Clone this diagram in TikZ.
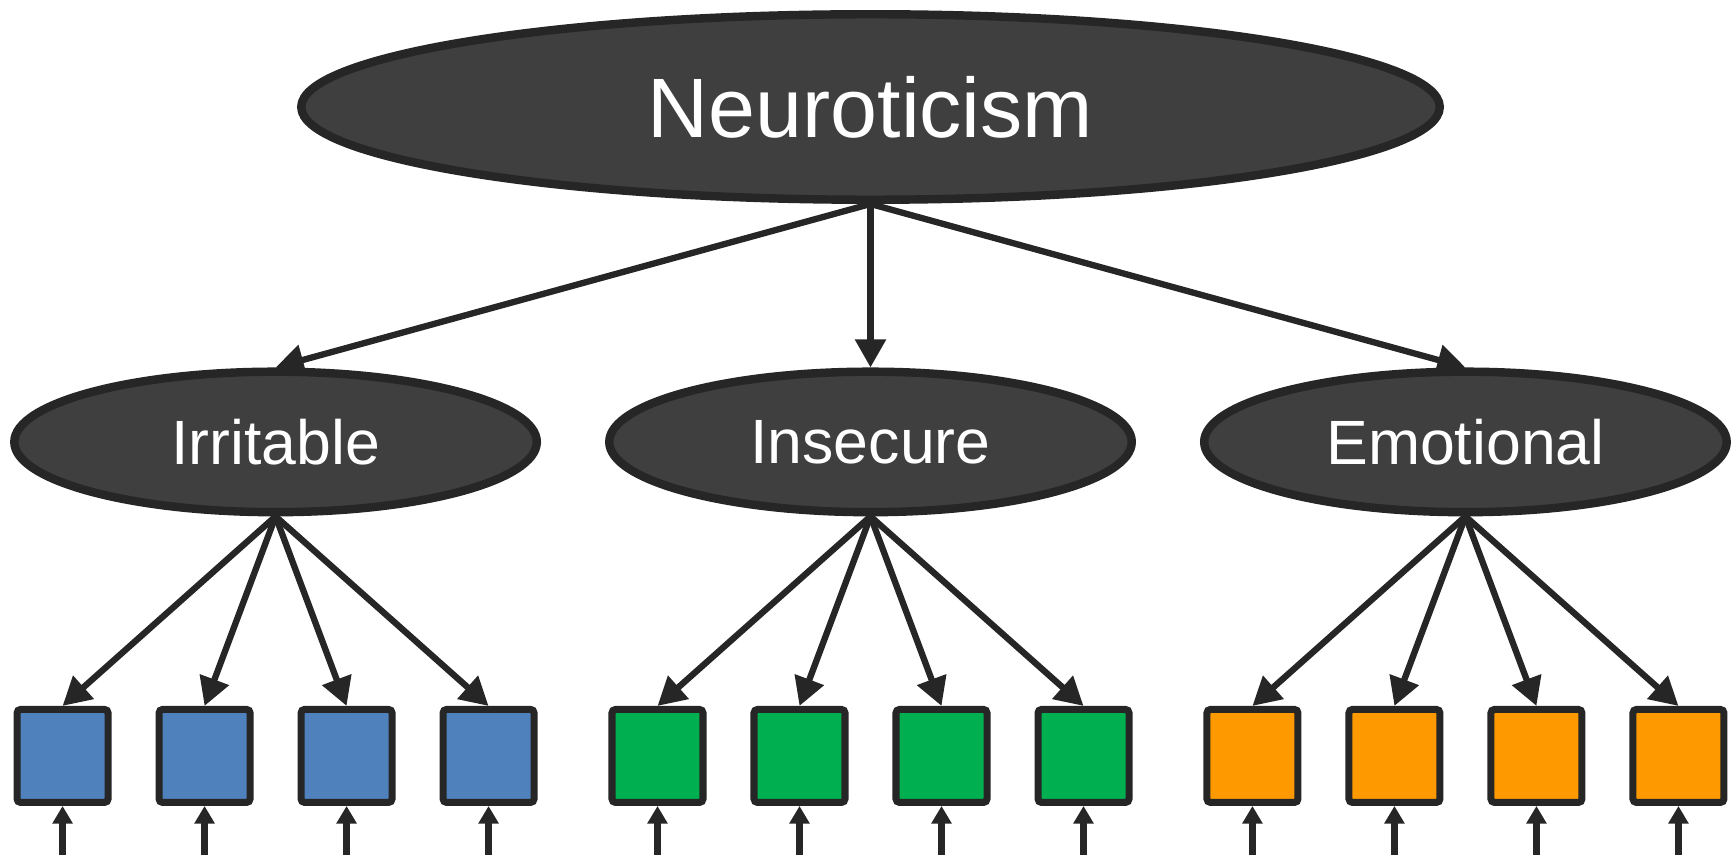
\documentclass[tikz,border=0pt]{standalone}
\usepackage{fontspec}
\setmainfont{Liberation Sans}
\usepackage{xcolor}
\usetikzlibrary{arrows.meta,positioning,calc,shapes.geometric}

\definecolor{latentfill}{HTML}{3F3F3F}
\definecolor{edgegray}{HTML}{262626}
\definecolor{itemblue}{HTML}{4F81BD}
\definecolor{itemgreen}{HTML}{00B050}
\definecolor{itemorange}{HTML}{FF9900}

\begin{document}
\begin{tikzpicture}[
  latent/.style={ellipse, draw=edgegray, fill=latentfill, line width=2.4pt, text=white, inner sep=0pt},
  facet/.style={minimum width=5.225cm, minimum height=1.405cm, font=\fontsize{17.8}{21}\selectfont},
  item/.style={draw=edgegray, line width=2pt, rounded corners=1pt, minimum width=0.91cm, minimum height=0.93cm, inner sep=0pt},
  arr/.style={-{Triangle[length=8pt, width=8.5pt]}, line width=1.8pt, draw=edgegray},
  errarr/.style={-{Triangle[length=5pt, width=5.5pt]}, line width=2pt, draw=edgegray},
  node distance=1.635cm and 0.64cm,
]
  \useasboundingbox (0,0) rectangle (17.35,-8.55);

  \node[latent, minimum width=11.385cm, minimum height=1.855cm, font=\fontsize{24}{28}\selectfont] (neuro) at (8.705,-1.07) {Neuroticism};
  \node[latent, facet, below=of neuro] (ins) {Insecure};
  \node[latent, facet, left=of ins] (irr) {Irritable};
  \node[latent, facet, right=of ins] (emo) {Emotional};

  \draw[arr] (neuro.south) -- (irr.north);
  \draw[arr] (neuro.south) -- (ins.north);
  \draw[arr] (neuro.south) -- (emo.north);

  % items of each facet
  \foreach \grp/\col in {irr/itemblue, ins/itemgreen, emo/itemorange} {
    \foreach \k/\dx in {1/-2.13, 2/-0.71, 3/0.71, 4/2.13} {
      \node[item, fill=\col] (\grp\k) at ($(\grp.center)+(\dx,-3.14)$) {};
      \draw[arr] (\grp.south) -- (\grp\k.north);
      \coordinate (\grp\k err) at ($(\grp\k.south)+(0,-0.55)$);
      \draw[errarr] (\grp\k err) -- (\grp\k.south);
    }
  }
\end{tikzpicture}
\end{document}
